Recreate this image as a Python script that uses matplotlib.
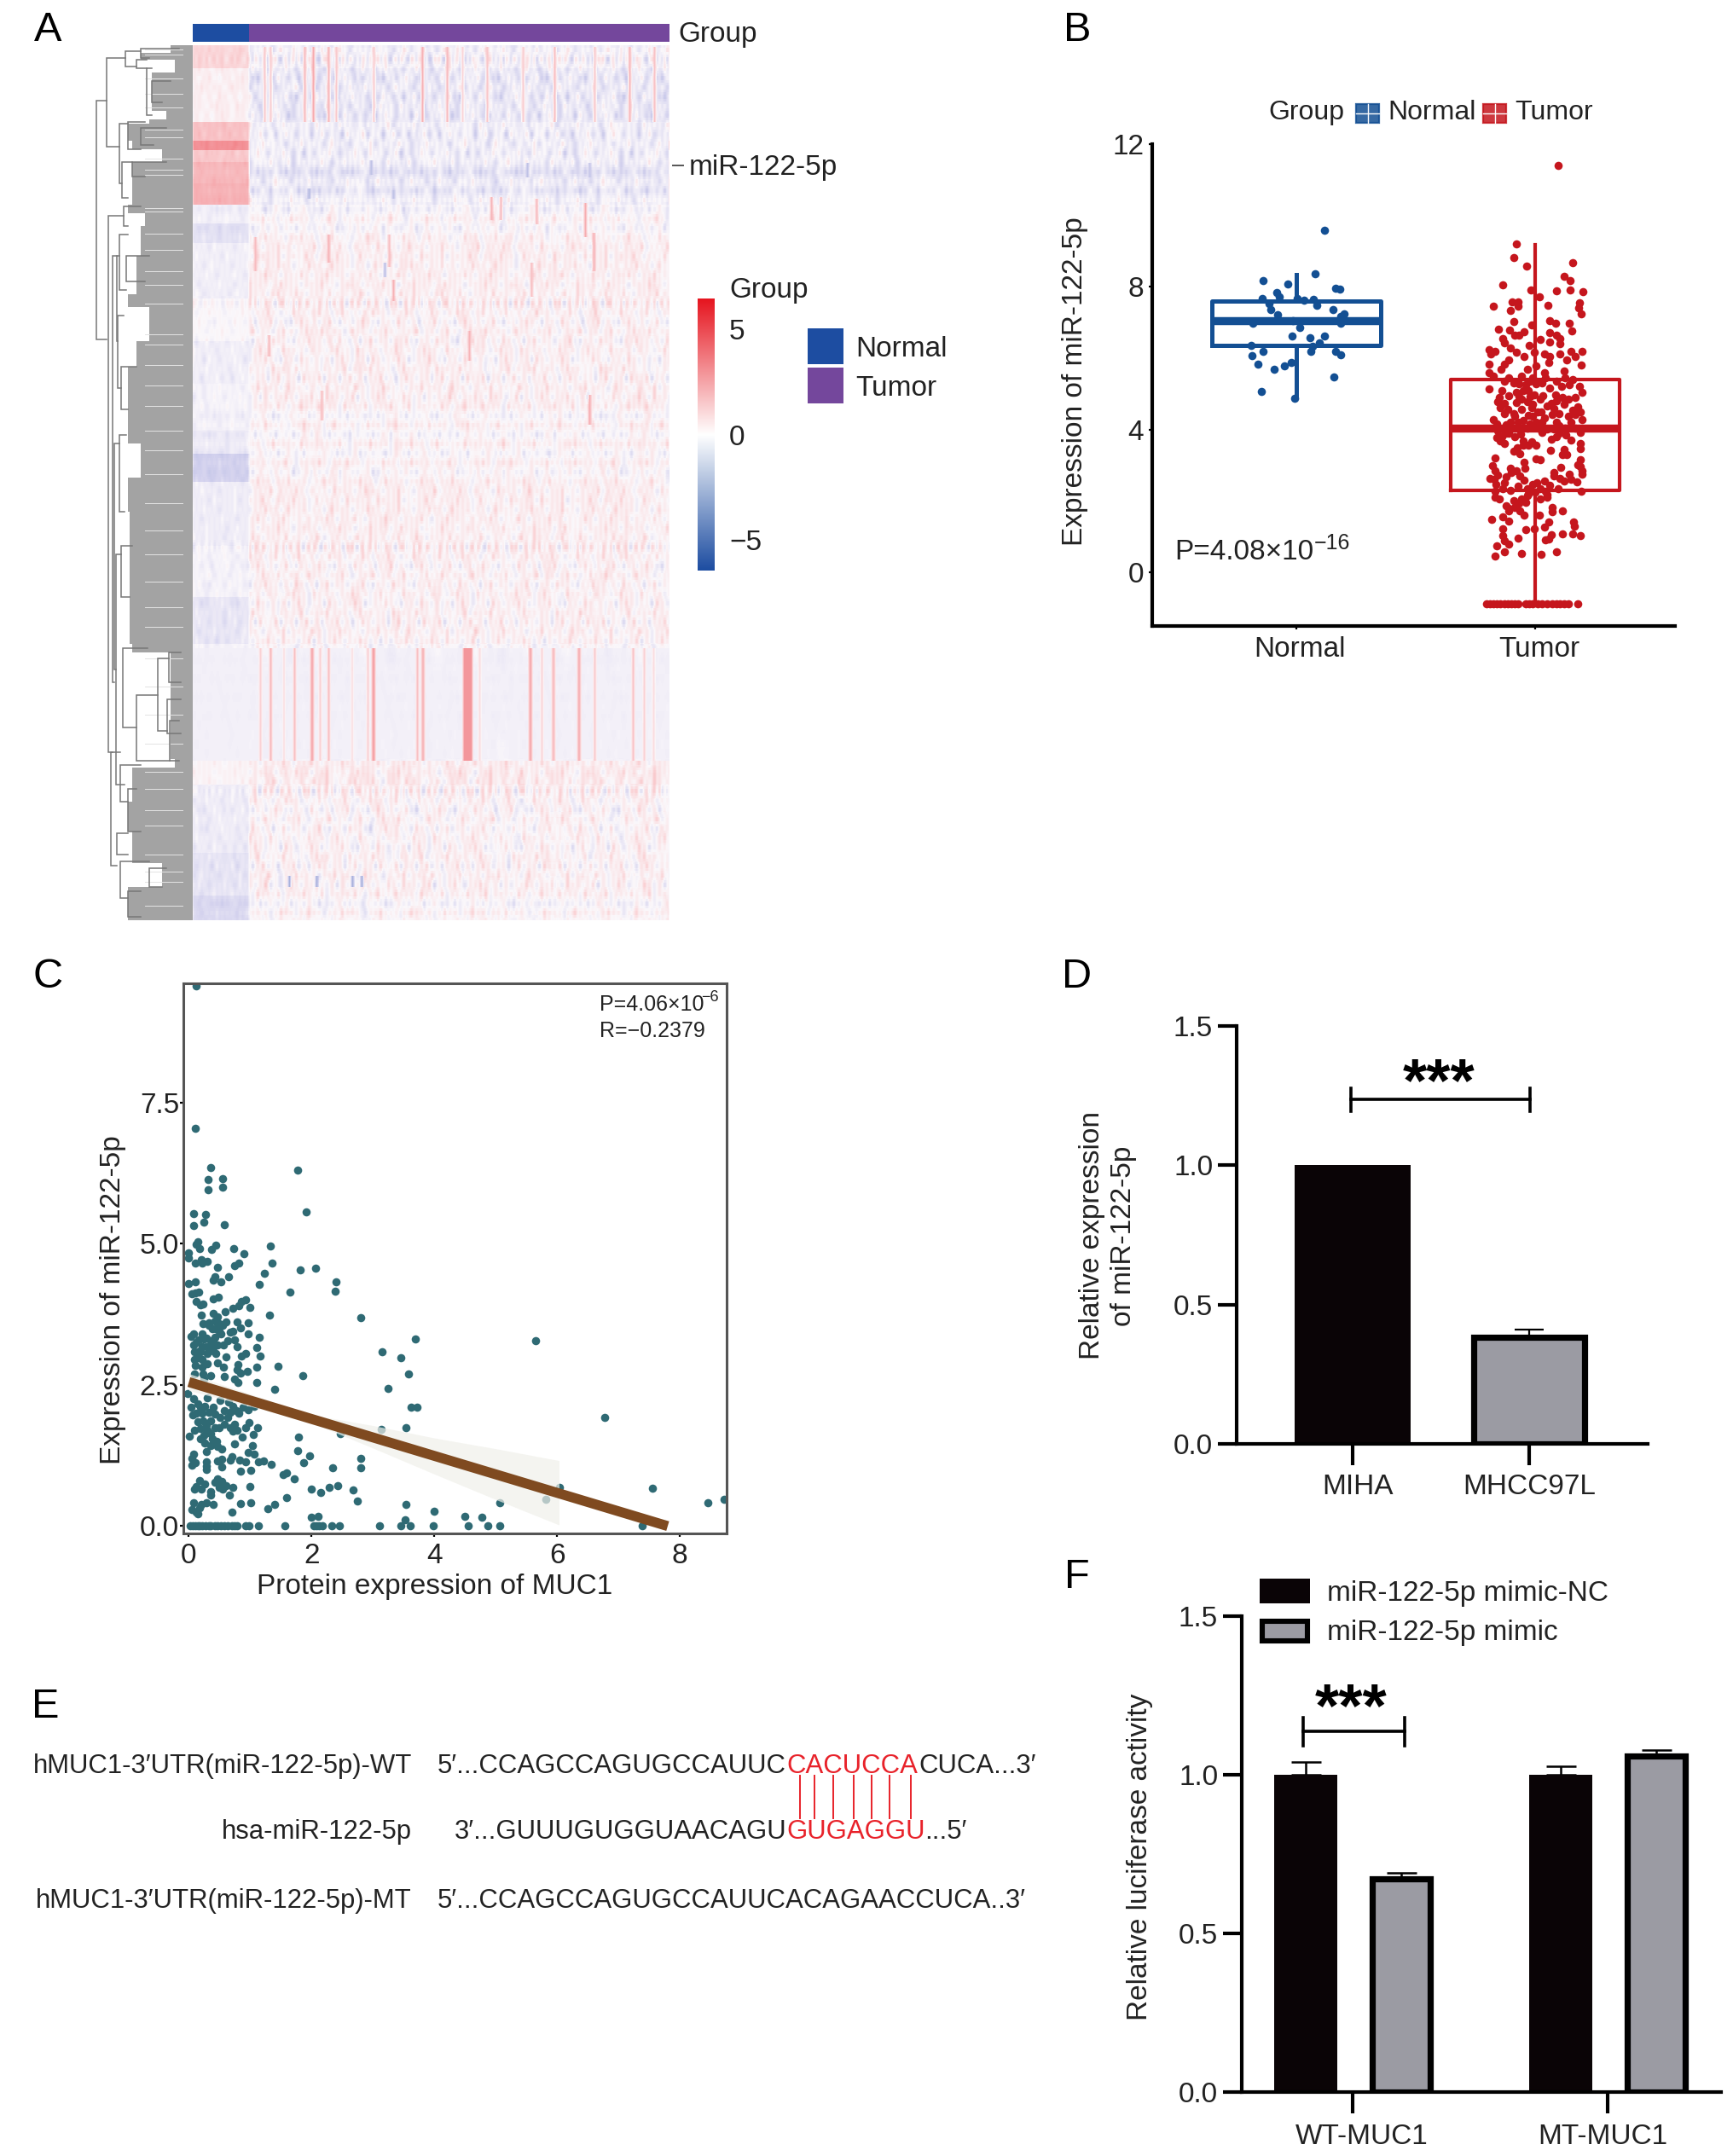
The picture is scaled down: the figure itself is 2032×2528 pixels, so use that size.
import numpy as np
import matplotlib
matplotlib.use('Agg')
import matplotlib.pyplot as plt
from matplotlib.colors import LinearSegmentedColormap
from matplotlib.patches import Rectangle

plt.rcParams['font.family'] = ['Liberation Sans', 'DejaVu Sans']

W, H = 2032, 2528
DPI = 200
PT = DPI / 72.0
TXT = '#222222'

# ---------- panel A: heat map, coarse values ----------
band_end = [80, 143, 165, 176, 190, 215, 240, 262, 285, 350, 400, 450, 505, 532, 565, 640, 700, 755, 892, 920, 1000, 1050, 1079]
band_normal = [0.8, 0.2, 1.4, 2.8, 1.2, 1.7, 1.9, -0.25, -0.6, -0.3, -0.05, -0.3, -0.2, -0.35, -1.0, -0.35, -0.2, -0.5, -0.2, 0.05, -0.35, -0.55, -0.8]
band_tumor = [-0.3, -0.5, -0.35, -0.35, -0.35, -0.4, -0.3, -0.02, -0.05, 0.0, 0.0, 0.0, 0.0, 0.0, 0.0, 0.0, 0.0, 0.0, -0.2, 0.1, -0.02, 0.0, -0.02]

texture_rows = [
    "-.+..-..+.-..+.-...+..-.+..-..+..-.+...-..+.-..+...-.+..-..+.-..",
    "..-...+...-.....-......+...-.....+.....-....-.....+.....-....+..",
    ".-...-.....+.-....-..+....-...-.....-....+....-....-...+...-...-",
    "-..+.-.-..-..=.-.+..-.-..=.-..-.+.-.=..-.-..+.-.=.-..-.+..-.-.=.",
    ".+..-.=.-...-.=..-...-.=.-.+..=...-.-.+..=.-...-.=...-..=.-.+..-",
    "..-.+..-.=.-..-.+.=.-..-...-=.-.+..-.=..-..+.-.-..=.-.+..-..=...",
    "+.-..-.+..=.+..-.-...+.=.-.+.-..+.-.+.-.=..+.-.-.+.-..+.=.-..+.-",
    ".+.+..*..+.+..-.+.*+.-..+.+..+.-.+*.+..*.+..+.-.+.*.+..+.*.+.-.+",
    "+.*..+.-.+.*.+..+.-.+..*.+.+.-.+..+.*.+.-.+.+.*.+..-.+..*.+.+.-.",
    ".+.*.+..+.+.-.+*.+.+..-.+.+.*.+.-..+.+.+*.-.+.+.-.+.*..+.-.+.*.+",
    "+.+..-.+.*.+.+.-.*.+..+.+.-.+.+.*.+..+.-.+.*.+.+..-.*.+.+..+.-.+",
    ".+.-+.+..+.+*.-.+.+.+.*..+.+.+.-.+.*.+.+..+.+.-.*.+.+.+..*.+.+..",
    "+..+.*.-.+.+.+..*+.+.-.+.+.*.+.+..+.-.+.+.*..+.+.+.-.+*.+.+..-.+",
    ".+*.+.+.+.-.*.+.+.+.*.-.+.+.+.*.+..+.*.-.+.+.+.+..*.+.-.+.+*.+.+",
    "+.+.-+.+*.+.+..+.-.+.*.+.+.-.+.+*.+.+.-.+.+..*.+.+.+..-.+.+.*.+.",
    ".+.+.+..+.*.+.-.+.+.+.*.+.+.+.-.+.+.+.*.+.+.-.+.*.+.+.+.+..*.+.+",
    "+.*.+.-.+.+.+*.+.+.-.+.+.+.*.+.+.-+.+.*.+.+.+.-.+.+.+*.+.-.+.+.+",
    ".+.+*.+.+.-.+.+.+.*.+.+.-.+.*.+.+.+.-.+.+.*.+.+.-.+.+.*.+.+.+.-.",
    "+.+.+.-.*.+.+.+.-.+.*+.+.+.-.+.+.*.+.+.-.+.+.+.*.-.+.+.+.*.+.-.+",
    ".*.+.+.+.+.-.*.+.+.+.+.-.*.+.+.+.*.-.+.+.+.+*.+.-.+.+.+.*.+.+.-.",
    "+.+.-.+*.+.+.+.-.+.+.*.+.+.-.+.+.*.+.+.-.+.+.*.+.+.-.+*.+.+.+.-.",
    ".+.+.*.+.-.+.+.+*.+.-.+.+.+.*.+.+.-.+.+.+.*.+.-.+.+.*.+.+.+.-.+.",
    "+.-.+.+.+.*.+.+.-.+.+.*.+.+.+.-.+.*.+.+.+.-.+.+.+.*.+.+.-.+.+.+.",
    "..+...-...+......+...-......+.....+...-...+.....+.....-....+.....",
    "................................................................",
    "................................................................",
    "................................................................",
    "......................................+.........................",
    "+-*+-*=+*-+*-=+*-*+-=*+-*+-+=-*+*-=+*-+*-*=+-*++-=+**-+-*=*+-*+-",
    "+.-.+.*.-.=.+.+-.+.*.+.-.=.+.+.-.*.+.-.+.=.+.+.*.-.+.-.=.+.*.+.-",
    "+.+.-.+.-.*.+.-.+.=.+.*.-.+.+.-.+.+.*.-.=.+.+.-.*.+.+.-.=.+.+.*.",
    ".+.-.+.=.+.*.+.-.+.+.=.*.+.-.+.+.*.+.=.-.+.+.*.+.-.=.+.+.-.*.+.-",
    "+.*.=.+.+.=.+.*.-.+.=.+.+.*.-.+.=.+.*.+.-.+.+.=.+.*.-.+.+.=.*.+.",
    ".+.-.*.+.+.-.+.*.=.+.-.+.*.+.-.+.+.*.+.-.+.=.+.-.+.+.*.+.-.+.+.*",
]
fine_rows = [7, 28, 8, 29, 9, 30, 10, 31, 11, 32, 12, 33, 13, 3, 14, 4, 15, 5, 16, 6, 17, 18, 19, 20, 21, 22]

stripe_top_col = [83, 90, 130, 140, 158, 167, 211, 268, 297, 315, 344, 386, 423, 470, 511, 540]
stripe_top_val = [1.2, 1.1, 1.6, 2.1, 1.7, 1.2, 1.1, 1.9, 1.6, 0.9, 1.3, 1.1, 1.5, 1.2, 1.7, 1.4]
stripe_mid_col = [78, 90, 106, 118, 138, 148, 158, 186, 204, 210, 262, 268, 317, 335, 394, 408, 421, 451, 470, 515, 528, 539]
stripe_mid_val = [1.0, 1.7, 0.9, 1.5, 2.0, 1.0, 1.5, 0.9, 1.0, 2.3, 1.5, 1.7, 2.7, 0.7, 2.0, 0.9, 1.5, 1.8, 1.2, 1.4, 1.0, 0.7]
stripe_mid_wide = [2, 2, 1, 2, 3, 2, 2, 1, 2, 3, 2, 3, 10, 2, 3, 2, 3, 3, 2, 2, 2, 2]

spot_col = [349, 360, 402, 459, 72, 158, 229, 469, 396, 234, 88, 323, 464, 150, 224, 135, 234, 208, 391, 464, 112, 144, 186, 197]
spot_top = [178, 178, 180, 185, 225, 222, 222, 220, 255, 275, 340, 335, 410, 405, 255, 168, 170, 135, 138, 138, 974, 974, 974, 974]
spot_bot = [205, 205, 210, 225, 265, 255, 260, 265, 295, 300, 365, 370, 445, 440, 272, 180, 180, 152, 155, 155, 987, 987, 987, 987]
spot_val = [1.8, 1.6, 1.6, 2.0, 1.6, 1.8, 1.5, 1.8, 1.5, 1.9, 1.6, 1.8, 2.0, 1.5, -1.6, -1.8, -1.5, -1.5, -1.5, -1.3, -2.2, -2.2, -2.2, -2.2]

tree_x = [113, 125, 147, 165, 160, 172, 178, 140, 150, 165, 143, 155, 127, 145, 132, 137, 140, 148, 138, 142, 134, 140, 136, 142, 144, 160, 185, 199, 198, 196, 141, 150, 137, 141, 175, 150, 130]
tree_top = [118, 68, 60, 57, 70, 80, 95, 145, 143, 150, 190, 190, 253, 242, 300, 300, 275, 300, 370, 430, 520, 510, 650, 640, 760, 815, 772, 845, 765, 820, 897, 925, 977, 1010, 1018, 1045, 882]
tree_bot = [398, 172, 78, 68, 80, 135, 120, 215, 175, 170, 232, 207, 882, 265, 800, 400, 340, 330, 455, 480, 785, 600, 920, 700, 853, 892, 857, 892, 800, 860, 940, 975, 1002, 1053, 1040, 1075, 1015]
tree_end_top = [125, 147, 165, 210, 172, 178, 200, 150, 170, 195, 155, 195, 145, 165, 137, 140, 150, 175, 145, 160, 140, 148, 142, 155, 173, 185, 198, 210, 212, 212, 165, 160, 150, 175, 195, 165, 141]
tree_end_bot = [125, 140, 160, 175, 172, 178, 190, 143, 165, 180, 150, 170, 132, 150, 134, 138, 148, 170, 142, 150, 136, 146, 146, 152, 160, 199, 196, 210, 212, 212, 150, 165, 150, 150, 190, 165, 137]

leaf_y = [53, 62, 70, 85, 130, 140, 145, 165, 175, 190, 240, 250, 265, 300, 345, 360, 400, 430, 480, 520, 560, 600, 700, 755, 765, 890, 900, 940, 975, 1000, 1012, 1040, 1079]
leaf_x = [200, 165, 205, 178, 195, 175, 150, 155, 190, 155, 150, 170, 165, 160, 150, 175, 160, 150, 150, 165, 150, 152, 152, 155, 200, 205, 155, 150, 155, 155, 190, 150, 150]
slit_y = [58, 64, 92, 110, 126, 152, 161, 186, 199, 205, 244, 248, 274, 293, 318, 334, 356, 392, 404, 428, 452, 476, 505, 528, 556, 590, 622, 650, 682, 712, 735, 772, 805, 838, 872, 905, 925, 950, 968, 1002, 1022, 1034, 1062]

cbar_ticks = [5, 0, -5]
bar_colors = ['#1d4da1', '#ffffff', '#e6151f']
heat_nodes = [(0.0, '#1d4da1'), (0.42, '#d0cfed'), (0.5, '#fbf8fb'), (0.58, '#fad0d3'), (1.0, '#e6151f')]

# ---------- panel B ----------
box_normal = dict(med=7.05, q1=6.35, q3=7.6, whislo=4.9, whishi=8.35)
box_tumor = dict(med=4.05, q1=2.3, q3=5.41, whislo=-0.9, whishi=9.19)
normal_x = [1.117, 1.077, .86, .964, 1.164, 1.182, .918, .858, .927, 1.004, 1.031, 1.073, 1.086, .885, .894, 1.153, 1.199, .922, 1.186, .818, .985, 1.186, 1.016, .982, 1.058, 1.117, 1.095, 1.067, .812, .862, 1.062, 1.164, 1.186, .816, .84, .907, .949, .98, 1.157, .854, .993]
normal_y = [9.59, 8.37, 8.18, 8.07, 7.95, 7.93, 7.85, 7.68, 7.71, 7.68, 7.63, 7.65, 7.49, 7.54, 7.36, 7.36, 7.25, 7.21, 7.16, 6.97, 7.05, 6.97, 6.85, 6.61, 6.57, 6.61, 6.44, 6.33, 6.35, 6.19, 6.19, 6.19, 6.09, 6.08, 5.84, 5.69, 5.78, 5.89, 5.47, 5.07, 4.87]
tumor_off = [.095, -.079, -.091, -.037, .156, .121, .148, -.136, -.018, .091, .148, .201, .018, -.096, -.071, -.176, -.071, -.103, .053, .187, .183, .194, -.09, .061, .087, .144, -.015, .152, -.152, -.108, -.086, -.069, -.045, .061, .091, -.136, -.128, .02, .061, .103, .103, -.025, -.193, -.169, -.187, -.104, -.078, -.047, -.004, .04, .061, .103, .15, .197, .167, .132, -.11, -.13, .056, -.193, .194, -.143, .002, -.033, -.193, .121, .038,
             -.175, -.11, -.057, -.009, .044, .126, .156, -.068, -.039, .002, .061, .144, .186, .197, -.193, -.08, -.05, -.027, -.139, .032, -.004, .085, .115, .167, -.156, -.128, -.146, -.116, -.057, -.033, -.068, .067, .05, -.057, -.015, .026, .18, .156, .138, .167, .197, -.175, -.087, -.05, -.009, .038, .073, .091, -.104, -.122, .002,
             -.157, -.134, -.098, -.069, -.033, .014, .05, .079, .126, .167, .191, -.139, -.11, -.087, -.128, -.146, -.05, -.015, .002, .067, .091, .15, -.075, -.027, -.063, .065, .189, .121, .115, .132, .002, .02, -.169, .189, -.047, .191, -.177, -.169, -.104, -.08, -.043, .106, .079, .142, .197, -.157, -.122, -.063, -.045, -.189, .102, .12, .174, .008, -.163, .061, -.134, -.104, -.033, .02, .044, -.169, .097, -.057, -.033, -.169, .02, .05, .194,
             -.122, -.069, -.087, .071, .071, .115, -.063, -.11, -.047, .018, -.134, -.112, -.183, .162, .056, .038, -.136, -.039, -.004, .165, .115, .156, .191, .067, .056, .044, -.136, -.071, -.128, -.11, -.16, -.128, -.169, -.057, .026, .091,
             -.204, -.19, -.175, -.16, -.145, -.13, -.115, -.10, -.085, -.07, -.04, -.025, -.01, .01, .03, .05, .07, .09, .105, .12, .14, .18,
             -.13, -.09, -.02, .03, .09, .11, -.15, -.11, -.02, .02, .09, .14, -.08, -.01, .08, .12, -.13, -.09, -.03, .01, .1, .19, -.16, -.07, -.02, .03, .1, .15, -.12, -.06, .03, .1, .13, -.16, -.05, -.09, -.1, -.13, -.01, .04, .08, -.07, -.17, .15, -.03, .0, .05, -.09, -.11, .19, .18, .195, -.15, -.04]
tumor_y = [11.40, 9.21, 8.81, 8.58, 8.68, 8.30, 8.17, 8.06, 7.91, 7.90, 7.91, 7.87, 7.71, 7.57, 7.57, 7.46, 7.46, 7.33, 7.47, 7.55, 7.42, 7.24, 7.02, 7.05, 6.97, 6.97, 6.93, 6.77, 6.81, 6.78, 6.65, 6.65, 6.73, 6.72, 6.65, 6.56, 6.44, 6.53, 6.46, 6.56, 6.40, 6.37, 6.24, 6.20, 6.12, 6.28, 6.16, 6.04, 6.16, 6.12, 6.04, 6.12, 6.20, 6.18, 6.04, 5.96, 5.96, 5.84, 5.88, 5.84, 5.82, 5.70, 5.78, 5.68, 5.60, 5.64, 5.60,
           5.49, 5.46, 5.49, 5.46, 5.46, 5.46, 5.41, 5.29, 5.25, 5.29, 5.17, 5.25, 5.21, 5.05, 5.13, 5.05, 5.09, 5.09, 5.09, 4.95, 4.97, 4.97, 4.90, 4.89, 4.77, 4.73, 4.61, 4.57, 4.85, 4.77, 4.93, 4.73, 4.65, 4.57, 4.61, 4.49, 4.63, 4.53, 4.37, 4.41, 4.29, 4.29, 4.37, 4.25, 4.37, 4.33, 4.41, 4.21, 4.21, 4.13, 4.21,
           3.97, 4.01, 4.05, 4.01, 4.05, 4.05, 4.01, 4.01, 4.05, 4.05, 3.93, 3.81, 3.89, 3.81, 3.61, 3.69, 3.69, 3.65, 3.57, 3.73, 3.81, 3.71, 3.49, 3.57, 3.33, 3.41, 3.47, 3.44, 3.29, 3.29, 3.17, 3.16, 3.2, 3.16, 3.09, 2.97, 2.99, 2.85, 2.91, 2.85, 2.91, 2.93, 2.79, 2.76, 2.75, 2.72, 2.67, 2.69, 2.58, 2.62, 2.62, 2.56, 2.53, 2.50, 2.46, 2.43, 2.35, 2.30, 2.34, 2.34, 2.26, 2.26, 2.34, 2.06, 2.14, 2.10, 2.06, 2.18, 2.27,
           1.87, 1.94, 1.82, 1.82, 1.7, 1.72, 1.71, 1.71, 1.59, 1.59, 1.55, 1.44, 1.48, 1.4, 1.42, 1.26, 1.22, 1.2, 1.22, 1.30, 1.08, 1.08, 1.02, 1.06, .94, .90, 1.02, .96, .88, .78, .74, .58, .46, .52, .50, .57,
           -.88, -.88, -.88, -.88, -.88, -.88, -.88, -.88, -.88, -.88, -.88, -.88, -.88, -.88, -.88, -.88, -.88, -.88, -.88, -.88, -.88, -.88,
           5.35, 5.3, 5.35, 5.3, 5.35, 5.2, 4.9, 4.95, 4.92, 4.85, 4.8, 4.85, 4.75, 4.7, 4.6, 4.7, 4.45, 4.45, 4.4, 4.5, 4.45, 4.5, 4.15, 4.2, 4.15, 4.2, 4.12, 4.2, 3.9, 3.88, 3.92, 3.9, 3.85, 3.78, 3.55, 3.4, 2.8, 2.5, 2.45, 2.55, 2.7, 2.42, 2.6, 2.6, 2.2, 2.25, 2.1, 2.0, 1.8, 3.6, 3.0, 2.85, 2.05, 1.95]

# ---------- panel C ----------
scatter_x = [.07, .27, .25, .08, .58, 1.91, .14, .12, .17, .44, .37, .73, .9, 1.33, 0, 0, .2, .1, .22, .3, .75, .82, 1.35, .46, 1.81, 2.07, 1.23, .42, .4, .64, .52, 0, .1, 1.15, 2.39, 2.38, 1.65, .05, .1, .16, .4, .48, .12, .23, .19, .93, .85, .81, .72, .99, .2, .59, .4, 1.32, 2.8, .47, .23, .33, .42, .49, .6, .78, .97, .84, .49, .67, .72, .97, .04, .21, .16, .28, .4, 1.14, .63, .74, .07, .21, .35, .56, .78, 1.11, .09, .19, .4, .44, .92, 3.15, .86, 1.16, .6, .09, .21, .3, .46, .21, .56, .8, 1.1, 1.45, .78, .84, .95, 1.85, .57, .74, .8, 1.11, 1.4, 3.24, .09, .23, .35,
             -.02, .07, .3, .14, .19, .26, .4, .51, .72, .65, .77, .88, .97, 1.07, .06, .23, .35, .51, .63, .29, .49, .74, .98, .93, 1.12, .09, .19, .35, .72, .79, .01, 1.05, .87, 1.78, .19, .26, .35, .46, .53, .74, 1.03, .28, .97, 1.06, 1.77, 1.97, 2.8, 2.8, .05, .07, .47, .53, .28, .67, .7, .83, .92, 1.13, 1.21, 1.34, 1.87, .28, .53, .84, 1.01, 2.34, 1.53, 1.59, 1.72, .18, .47, .26, .54, .09, .5, .72, 1.0, .35, .36, .66, 2.0, 2.15, 2.29, 2.42, 2.67, 2.75, 1.59, .07, .2, .29, .39, .84, 1.01, 1.39, 1.28, .05, .15, .7, 2.0, 2.11,
             .12, .1, .35, .31, .31, .55, .55, 1.77, 3.69, 5.65, 3.45, 3.58, 3.71, 3.62, 6.78, 3.53, 3.14, 2.47, 6.03, 7.55, 5.81, 5.07, 8.45, 8.72, 3.54, 3.99, 4.49, 4.77, 3.52,
             .02, .06, .1, .14, .18, .22, .27, .32, .36, .42, .47, .52, .58, .63, .7, .75, .78, .92, .98, 1.13, 1.57, 2.03, 2.08, 2.12, 2.17, 2.33, 2.45, 3.1, 3.45, 3.6, 3.98, 4.55, 4.87, 5.07, 7.38,
             .08, .12, .17, .24, .28, .13, .3, .36, .42, .46, .52, .32, .38, .44, .55, .1, .15, .25, .03, .12, .22, .32, .42, .58, .68, .82, .15, .3, .42, .58, .67, .25, .38, .45, .1, .05, .08, .28, .12, .2, .42, .6, .55, .12, .18]
scatter_y = [5.54, 5.52, 5.38, 5.32, 5.34, 5.56, 5.04, 4.99, 4.91, 4.97, 4.90, 4.91, 4.82, 4.96, 4.84, 4.75, 4.72, 4.65, 4.65, 4.68, 4.61, 4.65, 4.66, 4.58, 4.54, 4.57, 4.47, 4.42, 4.36, 4.41, 4.33, 4.3, 4.33, 4.28, 4.33, 4.16, 4.14, 4.12, 4.13, 4.14, 4.02, 4.05, 3.97, 3.93, 3.91, 4.01, 3.98, 3.90, 3.86, 3.87, 3.74, 3.79, 3.76, 3.73, 3.69, 3.70, 3.59, 3.60, 3.63, 3.58, 3.61, 3.62, 3.60, 3.51, 3.45, 3.44, 3.45, 3.41, 3.36, 3.40, 3.30, 3.33, 3.30, 3.34, 3.29, 3.30, 3.2, 3.18, 3.16, 3.2, 3.17, 3.16, 3.08, 3.08, 3.1, 3.05, 3.06, 3.08, 3.01, 3.01, 2.99, 2.95, 2.95, 2.88, 2.89, 2.82, 2.82, 2.86, 2.81, 2.83, 2.77, 2.71, 2.74, 2.67, 2.65, 2.61, 2.55, 2.55, 2.42, 2.43, 2.70, 2.7, 2.67,
             2.35, 2.25, 2.27, 2.17, 2.10, 2.12, 2.10, 2.22, 2.12, 2.2, 2.05, 2.10, 2.06, 2.12, 1.97, 1.87, 1.87, 1.92, 1.92, 1.79, 1.74, 1.8, 1.83, 1.74, 1.74, 1.69, 1.73, 1.64, 1.68, 1.69, 1.59, 1.62, 1.57, 1.58, 1.54, 1.47, 1.42, 1.41, 1.37, 1.45, 1.43, 1.32, 1.30, 1.28, 1.33, 1.25, 1.2, 1.04, 1.2, 1.12, 1.15, 1.19, 1.14, 1.17, 1.23, 1.17, 1.14, 1.14, 1.15, 1.1, 1.13, 1.01, 1.05, .97, .99, 1.04, .91, .94, .84, .8, .84, .75, .79, .66, .69, .69, .7, .61, .55, .55, .65, .6, .68, .71, .64, .45, .5, .41, .38, .42, .38, .4, .42, .38, .31, .29, .21, .24, .15, .17,
             9.56, 7.05, 6.35, 6.13, 5.96, 6.15, 6.0, 6.31, 3.32, 3.29, 2.98, 2.69, 2.11, 2.11, 1.92, 1.74, 1.71, 1.63, .68, .67, .47, .41, .41, .48, .39, .26, .17, .16, .11,
             0, 0, 0, 0, 0, 0, 0, 0, 0, 0, 0, 0, 0, 0, 0, 0, 0, 0, 0, 0, 0, 0, 0, 0, 0, 0, 0, 0, 0, 0, 0, 0, 0, 0, 0,
             3.4, 3.25, 3.1, 3.32, 3.18, 3.0, 3.05, 3.22, 3.35, 3.2, 3.4, 3.55, 3.5, 3.5, 3.55, 2.85, 2.98, 2.6, 2.1, 2.0, 2.0, 2.02, 1.98, 2.05, 2.02, 2.0, 1.85, 1.7, 1.75, 1.8, 1.75, 1.6, 1.55, 1.5, 1.12, 1.08, 1.28, 1.06, .7, .66, .78, .72, .65, .25, .32]
fit_x = [0, 7.8]
fit_y = [2.55, 0]
ribbon_x = [0, 1, 2, 3, 4, 5, 6.03]
ribbon_lo = [2.4, 2.12, 1.83, 1.38, 0.92, 0.47, 0.02]
ribbon_hi = [2.7, 2.34, 1.97, 1.78, 1.56, 1.37, 1.16]

# ---------- panel D ----------
d_groups = ['MIHA', 'MHCC97L']
d_vals = [1.0, 0.383]
d_err = [0.0, 0.028]

# ---------- panel F ----------
f_groups = ['WT-MUC1', 'MT-MUC1']
f_nc = [1.0, 1.0]
f_nc_err = [0.04, 0.027]
f_mimic = [0.671, 1.058]
f_mimic_err = [0.019, 0.019]


fig = plt.figure(figsize=(W / DPI, H / DPI), dpi=DPI, facecolor='white')


def ax_px(l, t, r, b):
    return fig.add_axes([l / W, 1 - b / H, (r - l) / W, (b - t) / H])


# overlay in figure pixels for labels, legends, dendrogram and panel E
ov = fig.add_axes([0, 0, 1, 1], zorder=10)
ov.set_xlim(0, W)
ov.set_ylim(H, 0)
ov.axis('off')
ov.patch.set_alpha(0)


def T(x, y, s, size=12, ha='left', va='center', color=TXT, **kw):
    if kw.get('rotation') == 90:
        x += 4
    else:
        y += 3
    return ov.text(x, y, s, fontsize=size, ha=ha, va=va, color=color, **kw)


def soften(a, dx, dy):
    a = (np.roll(a, dx, axis=1) + a + np.roll(a, -dx, axis=1)) / 3
    return (np.roll(a, dy, axis=0) + a + np.roll(a, -dy, axis=0)) / 3


for lab, lx, ly in [('A', 56, 32), ('B', 1263, 32), ('C', 56, 1142), ('D', 1263, 1142), ('E', 53, 1998), ('F', 1263, 1847)]:
    T(lx, ly, lab, size=17.5, ha='center', color='black')

# ---- A
bar_cmap = LinearSegmentedColormap.from_list('bar', bar_colors)
heat_cmap = LinearSegmentedColormap.from_list('heat', heat_nodes)
grid = np.zeros((1026, 559))
start = 0
for e, nv, tv in zip(band_end, band_normal, band_tumor):
    grid[start:e - 53, :66] = nv
    grid[start:e - 53, 66:] = tv
    start = e - 53

code = {'.': 0, '+': 0.5, '*': 1.2, '#': 2.0, '-': -0.5, '=': -1.0}
tex = np.zeros((len(texture_rows), 64))
for i, s in enumerate(texture_rows):
    s = s[:64].ljust(64, '.')
    tex[i] = [code[c] for c in s]

# broad mottling: typed rows stretched over the whole tumour block
coarse = np.zeros_like(grid)
rows_idx = np.minimum((np.arange(1026) * len(texture_rows) / 1026).astype(int), len(texture_rows) - 1)
cols_idx = np.minimum((np.arange(493) * 64 / 493).astype(int), 63)
coarse[:, 66:] = tex[rows_idx][:, cols_idx]
coarse = soften(coarse, 3, 8)

# fine streaks: the same typed cells at small size, moved on for every tile
row_cell = np.arange(1026) // 11
col_cell = np.arange(559) // 3
tile_rows = np.array(fine_rows)[row_cell % len(fine_rows)]
fine = tex[tile_rows[:, None], (col_cell[None, :] + 17 * (row_cell // len(fine_rows))[:, None]) % 64]
fine = soften(fine, 1, 3)
fine[:, :66] *= 0.4
fine[707:839, :] *= 0.1

grid[:, 66:] += coarse[:, 66:] * 0.3
grid += fine * 0.85

for c, v in zip(stripe_top_col, stripe_top_val):
    grid[2:90, c:c + 3] = v
for c, v, w in zip(stripe_mid_col, stripe_mid_val, stripe_mid_wide):
    grid[707:839, c:c + w + 1] = v
for c, a, b, v in zip(spot_col, spot_top, spot_bot, spot_val):
    grid[a:b, c:c + 3] = v
grid = (np.roll(grid, 1, axis=1) + grid + np.roll(grid, -1, axis=1)) / 3

ax_h = ax_px(226, 53, 785, 1079)
ax_h.imshow(grid, cmap=heat_cmap, vmin=-6.45, vmax=6.45, aspect='auto', interpolation='bilinear')
ax_h.axis('off')

ov.add_patch(Rectangle((226, 28), 66, 21, fc='#1d4da1', ec='none'))
ov.add_patch(Rectangle((292, 28), 493, 21, fc='#74479c', ec='none'))
T(795, 37, 'Group')
T(808, 194, 'miR-122-5p')
ov.plot([789, 801], [194, 194], color='#555555', lw=0.7)

ov.fill_betweenx(leaf_y, leaf_x, 226, color='#a3a3a3', lw=0, step='post')
for sy in slit_y:
    ov.plot([170, 214], [sy, sy], color='#e3e3e3', lw=0.35)
for x0, t0, b0, et, eb in zip(tree_x, tree_top, tree_bot, tree_end_top, tree_end_bot):
    ov.plot([et, x0, x0, eb], [t0, t0, b0, b0], color='#777777', lw=0.55, solid_joinstyle='miter')

ax_cb = ax_px(818, 350, 838, 669)
ax_cb.imshow(np.linspace(6.45, -6.45, 256).reshape(-1, 1), cmap=bar_cmap, vmin=-6.45, vmax=6.45, aspect='auto')
ax_cb.axis('off')
T(855, 337, 'Group')
for v in cbar_ticks:
    T(855, 510 - v * 24.7, str(v).replace('-', '\u2212'))
ov.add_patch(Rectangle((947, 385), 42, 42, fc='#1d4da1', ec='none'))
ov.add_patch(Rectangle((947, 431), 42, 42, fc='#74479c', ec='none'))
T(1003, 406, 'Normal')
T(1003, 452, 'Tumor')

# ---- B
BLUE = '#134f93'
RED = '#c5161d'
ax_b = ax_px(1351, 169, 1964, 734)
ax_b.set_xlim(1 - 169 / 280, 2 + 164 / 280)
ax_b.set_ylim(-1.507, 12)
for st, pos, col, lw in [(box_normal, 1, BLUE, 1.8), (box_tumor, 2, RED, 1.5)]:
    ax_b.bxp([st], positions=[pos], widths=0.71, showcaps=False, showfliers=False,
             boxprops=dict(color=col, lw=lw), whiskerprops=dict(color=col, lw=lw),
             medianprops=dict(color=col, lw=3.4, solid_capstyle='butt'))
ax_b.scatter(normal_x, normal_y, s=12, color=BLUE, lw=0, zorder=3)
ax_b.scatter(2 + np.array(tumor_off), tumor_y, s=12, color=RED, lw=0, zorder=3)
ax_b.set_xticks([1, 2])
ax_b.set_xticklabels(['', ''])
ax_b.set_yticks([0, 4, 8, 12])
ax_b.tick_params(axis='y', labelsize=12, labelcolor=TXT, length=1.5, width=0.8, pad=2)
ax_b.tick_params(axis='x', length=1.5, width=0.8)
for s in ['top', 'right']:
    ax_b.spines[s].set_visible(False)
for s in ['left', 'bottom']:
    ax_b.spines[s].set_linewidth(1.5)
T(1524, 758, 'Normal', ha='center')
T(1805, 758, 'Tumor', ha='center')
T(1256, 447, 'Expression of miR-122-5p', ha='center', rotation=90)
T(1487, 129, 'Group', size=11.5)
T(1627, 129, 'Normal', size=11.5)
T(1776, 129, 'Tumor', size=11.5)
for sx, col in [(1590, BLUE), (1739, RED)]:
    ov.add_patch(Rectangle((sx, 122), 27, 22, fc=col, ec=col, lw=0.8, alpha=0.85))
    ov.plot([sx, sx + 27], [133, 133], color='white', lw=0.5)
    ov.plot([sx + 13.5, sx + 13.5], [122, 144], color='white', lw=0.5)
T(1377, 645, 'P=4.08\u00d710', size=12)
T(1541, 634, '\u221216', size=9)

# ---- C
ax_c = ax_px(215, 1153, 852, 1798)
ax_c.set_xlim(-0.09, 8.76)
ax_c.set_ylim(-0.13, 9.61)
ax_c.scatter(scatter_x, scatter_y, s=12, color='#2f6a74', lw=0, zorder=2, clip_on=True)
ax_c.fill_between(ribbon_x, ribbon_lo, ribbon_hi, color='#f0f0ea', alpha=0.7, lw=0, zorder=3)
ax_c.plot(fit_x, fit_y, color='#7f4a20', lw=4.2, solid_capstyle='butt', zorder=4)
ax_c.set_xticks([0, 2, 4, 6, 8])
ax_c.set_yticks([0, 2.5, 5, 7.5])
ax_c.set_yticklabels(['0.0', '2.5', '5.0', '7.5'])
ax_c.tick_params(axis='x', labelsize=12, labelcolor=TXT, length=1.5, width=0.8, pad=2.5)
ax_c.tick_params(axis='y', labelsize=12, labelcolor=TXT, length=1.5, width=0.8, pad=0.3)
for s in ax_c.spines.values():
    s.set_linewidth(1.1)
    s.set_color('#555555')
T(129, 1524, 'Expression of miR-122-5p', ha='center', rotation=90)
T(510, 1858, 'Protein expression of MUC1', ha='center')
T(703, 1175, 'P=4.06\u00d710', size=9)
T(822, 1166, '\u22126', size=6.5)
T(703, 1206, 'R=\u22120.2379', size=9)

# ---- D
ax_d = ax_px(1450, 1203, 1932, 1693)
ax_d.set_xlim(-136 / 207, 1 + 139 / 207)
ax_d.set_ylim(0, 1.5)
ax_d.bar([0], [d_vals[0]], width=0.655, color='#0a0406', lw=0)
ax_d.bar([1], [d_vals[1]], width=0.625, color='#9b9ba3', edgecolor='black', lw=2.6)
ax_d.errorbar([1], [d_vals[1]], yerr=[[0], [d_err[1]]], color='black', lw=0.8, capsize=6.2, capthick=0.8, ls='none', zorder=1)
ax_d.plot([-0.01, 1.005], [1.237, 1.237], color='black', lw=1.3, zorder=4)
for xb in [-0.01, 1.005]:
    ax_d.plot([xb, xb], [1.194, 1.278], color='black', lw=1.3)
ax_d.text(0.49, 1.29, '***', fontsize=26, fontweight='bold', ha='center', va='center', color='black')
ax_d.set_xticks([0, 1])
ax_d.set_xticklabels(['', ''])
ax_d.set_yticks([0, 0.5, 1, 1.5])
ax_d.set_yticklabels(['0.0', '0.5', '1.0', '1.5'])
ax_d.tick_params(axis='y', labelsize=12, labelcolor=TXT, length=8, width=1.5, pad=2)
ax_d.tick_params(axis='x', length=9, width=1.5)
for s in ['top', 'right']:
    ax_d.spines[s].set_visible(False)
for s in ['left', 'bottom']:
    ax_d.spines[s].set_linewidth(1.5)
T(1592, 1741, d_groups[0], ha='center')
T(1793, 1741, d_groups[1], ha='center')
T(1295, 1449, 'Relative expression\nof miR-122-5p', ha='center', rotation=90, linespacing=1.28, multialignment='center')

# ---- E
row_y = [2068, 2145, 2226]
T(483, row_y[0], 'hMUC1-3\u2032UTR(miR-122-5p)-WT', size=11.2, ha='right')
T(483, row_y[1], 'hsa-miR-122-5p', size=11.2, ha='right')
T(483, row_y[2], 'hMUC1-3\u2032UTR(miR-122-5p)-MT', size=11.2, ha='right')
T(922, row_y[0], '5\u2032...CCAGCCAGUGCCAUUC', size=11.2, ha='right')
T(922, row_y[0], 'CACUCCA', size=11.2, color='#e8222a')
T(1077, row_y[0], 'CUCA...3\u2032', size=11.2)
T(922, row_y[1], '3\u2032...GUUUGUGGUAACAGU', size=11.2, ha='right')
T(922, row_y[1], 'GUGAGGU', size=11.2, color='#e8222a')
T(1084, row_y[1], '...5\u2032', size=11.2)
T(513, row_y[2], '5\u2032...CCAGCCAGUGCCAUUCACAGAACCUCA..3\u2032', size=11.2)
for lx in [938, 955, 977, 1001, 1022, 1043, 1068]:
    ov.plot([lx, lx], [2082, 2132], color='#e8222a', lw=0.7)

# ---- F
ax_f = ax_px(1456, 1895, 2018, 2453)
ax_f.set_xlim(-130 / 299, 1 + 133 / 299)
ax_f.set_ylim(0, 1.5)
xs = np.arange(2)
ax_f.bar(xs - 0.184, f_nc, width=0.247, color='#0a0406', lw=0, zorder=2)
ax_f.bar(xs + 0.19, f_mimic, width=0.226, color='#9b9ba3', edgecolor='black', lw=2.6, zorder=2)
ax_f.errorbar(xs - 0.184, f_nc, yerr=[[0, 0], f_nc_err], color='black', lw=0.9, capsize=6.3, capthick=0.9, ls='none', zorder=1)
ax_f.errorbar(xs + 0.19, f_mimic, yerr=[[0, 0], f_mimic_err], color='black', lw=0.9, capsize=6.3, capthick=0.9, ls='none', zorder=1)
ax_f.plot([-0.194, 0.204], [1.137, 1.137], color='black', lw=1.3)
for xb in [-0.194, 0.204]:
    ax_f.plot([xb, xb], [1.092, 1.179], color='black', lw=1.3)
ax_f.text(-0.007, 1.205, '***', fontsize=26, fontweight='bold', ha='center', va='center', color='black')
ax_f.set_xticks(xs)
ax_f.set_xticklabels(['', ''])
ax_f.set_yticks([0, 0.5, 1, 1.5])
ax_f.set_yticklabels(['0.0', '0.5', '1.0', '1.5'])
ax_f.tick_params(axis='y', labelsize=12, labelcolor=TXT, length=8, width=1.5, pad=2)
ax_f.tick_params(axis='x', length=9, width=1.5)
for s in ['top', 'right']:
    ax_f.spines[s].set_visible(False)
for s in ['left', 'bottom']:
    ax_f.spines[s].set_linewidth(1.5)
T(1597, 2503, f_groups[0], ha='center')
T(1879, 2503, f_groups[1], ha='center')
T(1332, 2177, 'Relative luciferase activity', ha='center', rotation=90)
ov.add_patch(Rectangle((1477, 1851), 59, 29, fc='#0a0406', ec='none'))
ov.add_patch(Rectangle((1480, 1901), 53, 23, fc='#9b9ba3', ec='black', lw=2.2))
T(1556, 1866, 'miR-122-5p mimic-NC')
T(1556, 1912, 'miR-122-5p mimic')

fig.savefig('out.png', dpi=DPI, facecolor='white')
plt.close(fig)
